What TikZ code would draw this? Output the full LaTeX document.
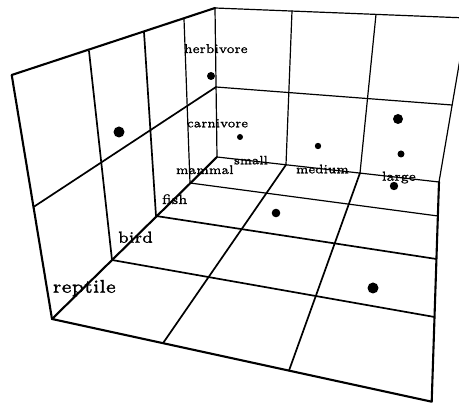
\documentclass[tikz,border=0pt]{standalone}
\usepackage{graphicx}
\font\lblfont="[lmroman6-regular]:embolden=1.3" at 6pt
\newcommand{\lbltxt}[2]{\scalebox{#1}{\lblfont #2}}
\begin{document}
\begin{tikzpicture}[x=1pt,y=-1pt,
  thick edge/.style={line width=2.1pt, line join=round, line cap=round},
  mid edge/.style={line width=1.7pt, line cap=round},
  back edge/.style={line width=1.2pt, line cap=round},
  dot/.style={circle, fill=black, inner sep=0pt},
  lab/.style={anchor=base west, inner sep=0pt, outer sep=0pt}]
\useasboundingbox (0,0) rectangle (459,403);
\clip (0,0) rectangle (459,403);
% corners
\coordinate (A) at (11.7,75);
\coordinate (B) at (52,319);
\coordinate (C) at (217,157);
\coordinate (D) at (215,8);
\coordinate (E) at (439,182);
\coordinate (F) at (467,18);
\coordinate (G) at (431.7,401.7);
% left wall grid points
\coordinate (lt1) at (89,51);   \coordinate (lb1) at (112,260);
\coordinate (lt2) at (144,32);  \coordinate (lb2) at (156,216);
\coordinate (lt3) at (184,19);  \coordinate (lb3) at (190,183);
\coordinate (lmf) at (33.5,207); \coordinate (lmb) at (216,87);
% back wall grid points
\coordinate (bt1) at (292,11);   \coordinate (bb1) at (286,164.8);
\coordinate (bt2) at (376,14.4); \coordinate (bb2) at (360,173);
\coordinate (bmr) at (452,105);
% floor grid points
\coordinate (fr3) at (437.9,216);
\coordinate (fr2) at (436.4,259);
\coordinate (fr1) at (434.5,317);
\coordinate (ff1) at (163,343.2);
\coordinate (ff2) at (289,370.6);
% back wall
\draw[back edge] (D) -- (F) -- (E) -- (C);
\draw[back edge] (bt1) -- (bb1);
\draw[back edge] (bt2) -- (bb2);
\draw[back edge] (lmb) -- (bmr);
\draw[back edge] (D) -- (C);
% left wall
\draw[thick edge] (B) -- (A) -- (D);
\draw[mid edge] (lt1) -- (lb1);
\draw[mid edge] (lt2) -- (lb2);
\draw[back edge] (lt3) -- (lb3);
\draw[mid edge] (lmf) -- (lmb);
% floor
\draw[thick edge] (C) -- (B) -- (G) -- (E);
\draw[back edge] (lb3) -- (fr3);
\draw[mid edge] (lb2) -- (fr2);
\draw[mid edge] (lb1) -- (fr1);
\draw[mid edge] (bb1) -- (ff1);
\draw[mid edge] (bb2) -- (ff2);
% dots
\node[dot, minimum size=11pt] (d1) at (119,132) {};
\node[dot, minimum size=8pt] (d2) at (211,76) {};
\node[dot, minimum size=6pt] (d3) at (240,137) {};
\node[dot, minimum size=6.4pt] (d4) at (318,146) {};
\node[dot, minimum size=10pt] (d5) at (398,119) {};
\node[dot, minimum size=7pt] (d6) at (401,154) {};
\node[dot, minimum size=8.4pt] (d7) at (394,186) {};
\node[dot, minimum size=8.6pt] (d8) at (276,213) {};
\node[dot, minimum size=11pt] (d9) at (373,288) {};
% labels
\node[lab] (herb) at (184,53) {\lbltxt{2.13}{herbivore}};
\node[lab] (carn) at (187,127.3) {\lbltxt{2.07}{carnivore}};
\node[lab] (mamm) at (176,174) {\lbltxt{2.1}{mammal}};
\node[lab] (small) at (234,164.3) {\lbltxt{2.02}{small}};
\node[lab] (med) at (296,173.3) {\lbltxt{2.07}{medium}};
\node[lab] (large) at (382,180.7) {\lbltxt{2.17}{large}};
\node[lab] (fish) at (162,204) {\lbltxt{2.27}{fish}};
\node[lab] (bird) at (118,242.7) {\lbltxt{2.67}{bird}};
\node[lab] (rept) at (52.7,292.7) {\lbltxt{3.07}{reptile}};
\end{tikzpicture}
\end{document}
